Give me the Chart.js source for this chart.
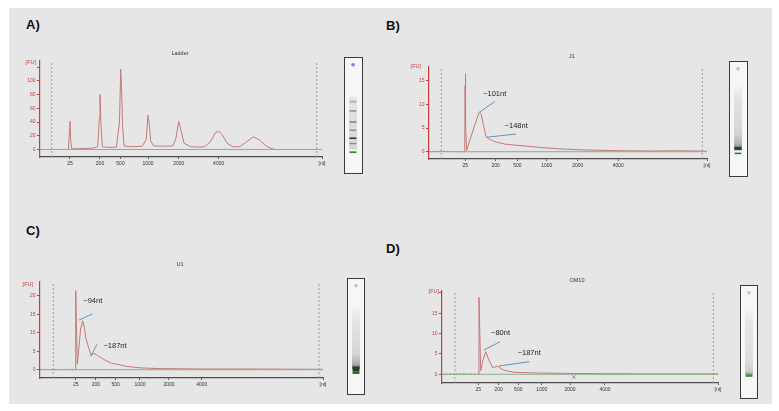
<!DOCTYPE html>
<html><head><meta charset="utf-8">
<script src="https://cdn.jsdelivr.net/npm/chart.js@4.4.0/dist/chart.umd.min.js"></script>
<style>
html,body{margin:0;padding:0;background:#fff;width:779px;height:411px;overflow:hidden;font-family:"Liberation Sans",Arial,sans-serif;}
#bg{position:absolute;left:9px;top:8px;width:763px;height:396px;background:#e6e6e6;}
.plabel{position:absolute;font-weight:bold;font-size:13px;color:#111;line-height:13px;}
canvas{position:absolute;}
.gel{position:absolute;border:1.3px solid #3a3a3a;background:#f6f6f6;box-sizing:border-box;overflow:hidden;}
.gel canvas{left:0;top:0;}
</style></head><body>
<div id="bg"></div>
<div class="plabel" style="left:26px;top:18px">A)</div>
<div class="plabel" style="left:386px;top:18.5px">B)</div>
<div class="plabel" style="left:26px;top:224px">C)</div>
<div class="plabel" style="left:386px;top:242px">D)</div>
<script>
// ---------- DATA ----------
const xTickLabels = ['25', '200', '500', '1000', '2000', '4000', '[nt]'];

// Panel A: Ladder (x = migration time, s)
const ladderTickT = [20.85, 26.7, 30.7, 36.07, 42.05, 49.85, 70];
const ladderTime = [20.55,20.75,20.85,21.0,21.2,22.3,23.8,25.3,26.25,26.55,26.7,26.9,27.15,28.4,29.9,30.5,30.74,30.9,31.1,31.4,32.9,34.9,35.7,36.07,36.3,36.6,37.2,38.9,40.9,41.5,42.05,42.5,43.1,44.4,45.9,47.1,48.2,49.2,49.85,50.5,51.5,52.6,53.9,55.1,56.6,57.8,59.1,60.3,60.9];
const ladderFU   = [0,30,41,12,1,1,1.5,2,4,45,80,35,4,3,3.5,40,117,90,35,5,4,4.5,14,50,38,12,5,5,5,16,41,28,9,4,3.5,4,11,24,27,22,9,4,4,10,18.5,14,5,1,0];
const ladderYTicks = [0, 20, 40, 60, 80, 100, 120];
const ladderYLabels = ['0', '20', '40', '60', '80', '100', ''];

// Panel B: J1
const j1TickT = [22.18, 28.2, 32.47, 38.29, 44.42, 52.45, 70];
const j1Time = [15,17.2,20.1,22.08,22.14,22.18,22.28,22.42,23.11,24.1,24.95,25.29,25.78,26.28,26.87,28.06,30.04,33.0,35.97,38.15,40.92,44.87,48.83,52.79,58.72,64.66,70];
const j1FU   = [0,0.1,0,0,14,16.5,6,0.2,2.5,5.8,8.4,8.1,5.5,3.2,2.7,2.1,1.6,1.3,1.0,0.8,0.6,0.4,0.3,0.2,0.15,0.2,0.1];
const j1YTicks = [0, 5, 10, 15];
const j1YLabels = ['0', '5', '10', '15'];
const j1AnnLabels = ['~101nt', '~148nt'];
const j1AnnFrom = [[24.95, 8.3], [26.28, 3.04]];
const j1AnnTo   = [[28.0, 10.6], [32.21, 3.74]];
const j1AnnText = [[28.0, 12.3], [32.25, 5.43]];

// Panel C: U1
const u1TickT = [21.94, 25.88, 29.71, 34.43, 40.07, 46.43, 70];
const u1Time = [15,18,21,21.82,21.94,22.25,22.9,23.3,23.6,23.94,24.91,25.49,26.02,27.63,28.93,29.9,31.85,34.43,38.32,46.1,55.8,70];
const u1FU   = [0.1,0,0.1,0,21.35,1.5,11,13.2,11.5,8.3,3.9,4.4,4.0,2.6,1.7,1.5,0.9,0.5,0.3,0.2,0.2,0.1];
const u1YTicks = [0, 5, 10, 15, 20];
const u1YLabels = ['0', '5', '10', '15', '20'];
const u1AnnLabels = ['~94nt', '~187nt'];
const u1AnnFrom = [[22.58, 13.4], [24.85, 3.57]];
const u1AnnTo   = [[25.2, 15.1], [26.08, 6.86]];
const u1AnnText = [[25.26, 18.7], [29.58, 6.5]];

// Panel D: OM10
const om10TickT = [22.23, 26.3, 30.2, 34.87, 40.51, 47.48, 70];
const om10Time = [15,18.59,22.25,22.37,22.71,23.17,23.71,24.17,25.1,26.02,27.22,29.21,34.53,40.51,46.49,56.45,70];
const om10FU   = [0,0.1,0,18.9,0.9,3.5,5.55,4.0,1.6,2.0,1.05,0.5,0.3,0.2,0.15,0.1,0.1];
const om10YTicks = [0, 5, 10, 15, 20];
const om10YLabels = ['0', '5', '10', '15', ''];
const om10AnnLabels = ['~80nt', '~187nt'];
const om10AnnFrom = [[23.37, 5.97], [26.36, 2.04]];
const om10AnnTo   = [[26.56, 8.0], [32.4, 3.1]];
const om10AnnText = [[26.66, 10.1], [32.38, 5.16]];
const om10Marker = [41.3, -0.66];

// Gel lanes (band positions in % of lane height from top)
const gelABands = [[36.1, 38.8], [45.3, 47.0], [56.0, 57.4], [63.7, 65.0], [71.2, 72.6], [76.3, 77.6], [84.3, 85.8]];
const gelAColors = ['#bcbcbc', '#9a9a9a', '#7e7e7e', '#8c8c8c', '#2e2e2e', '#8a8a8a', '#1d8a1d'];
const gelBBands = [[76.9, 79.9], [82.5, 84.0]];
const gelBColors = ['#3a3a3a', '#1a8a1a'];
const gelCBands = [[78.0, 82.8], [82.8, 85.0]];
const gelCColors = ['#2f3a2f', '#1c6e1c'];
const gelDBands = [[80.3, 81.8], [81.8, 83.4]];
const gelDColors = ['#8a8a8a', '#1a8a1a'];

// ---------- RENDERING ----------
Chart.defaults.font.family = '"Liberation Sans", Arial, sans-serif';
const RED = '#c83c3c';

function electro(geo, d) {
  const PADL = 30, PADR = 20, PADT = 20, PADB = 22;
  const W = geo.right - geo.left + PADL + PADR;
  const H = geo.bottom - geo.top + PADT + PADB;
  const cvL = geo.left - PADL, cvT = geo.top - PADT;
  const cv = document.createElement('canvas');
  cv.width = W; cv.height = H;
  cv.style.left = cvL + 'px'; cv.style.top = cvT + 'px';
  document.body.appendChild(cv);

  const ds = [];
  d.dashT.forEach(t => ds.push({data: [{x: t, y: d.yMin}, {x: t, y: d.yMax}], borderColor: '#9c9c9c', borderWidth: 1, borderDash: [2, 2], pointRadius: 0}));
  ds.push({data: [{x: d.xMin, y: 0}, {x: d.xMax, y: 0}], borderColor: '#86b286', borderWidth: 1, pointRadius: 0});
  const pre = d.preEnd;
  ds.push({
    data: d.time.map((t, i) => ({x: t, y: d.fu[i]})),
    borderColor: '#c47878', borderWidth: 1, pointRadius: 0, tension: 0,
    segment: {
      borderColor: c => c.p1.parsed.x <= pre ? '#7d746c' : undefined,
      borderDash: c => c.p1.parsed.x <= pre ? [2, 1.5] : undefined
    }
  });
  (d.annFrom || []).forEach((a, i) => ds.push({data: [{x: a[0], y: a[1]}, {x: d.annTo[i][0], y: d.annTo[i][1]}], borderColor: '#5f93b8', borderWidth: 1, pointRadius: 0}));
  if (d.marker) ds.push({data: [{x: d.marker[0], y: d.marker[1]}], showLine: false, pointStyle: 'crossRot', pointRadius: 2.5, borderColor: '#d070d0', borderWidth: 1});

  const textPlugin = {
    id: 'panelText',
    afterDraw(chart) {
      const c = chart.ctx;
      c.save();
      c.textBaseline = 'middle';
      c.font = '5.5px "Liberation Sans", Arial, sans-serif';
      c.fillStyle = '#333'; c.textAlign = 'center';
      c.fillText(d.title, geo.titleX - cvL, geo.titleY - cvT);
      c.fillStyle = RED; c.textAlign = 'right';
      c.fillText('[FU]', geo.fuX - cvL, geo.fuY - cvT);
      c.fillStyle = '#222'; c.textAlign = 'center';
      c.font = '7.5px "Liberation Sans", Arial, sans-serif';
      (d.annLabels || []).forEach((lab, i) => {
        c.fillText(lab, chart.scales.x.getPixelForValue(d.annText[i][0]), chart.scales.y.getPixelForValue(d.annText[i][1]));
      });
      c.restore();
    }
  };

  new Chart(cv, {
    type: 'line',
    data: {datasets: ds},
    options: {
      responsive: false, animation: false, devicePixelRatio: 1,
      layout: {padding: {left: 0, right: PADR, top: PADT, bottom: 0}},
      plugins: {legend: {display: false}, tooltip: {enabled: false}},
      scales: {
        x: {
          type: 'linear', min: d.xMin, max: d.xMax,
          afterBuildTicks: s => { s.ticks = d.xTickT.map(v => ({value: v})); },
          afterFit: s => { s.height = PADB; s.paddingLeft = 0; s.paddingRight = 0; },
          ticks: {callback: (v, i) => xTickLabels[i], font: {size: 5}, color: '#333', padding: 2, maxRotation: 0, autoSkip: false},
          grid: {display: true, drawOnChartArea: false, drawTicks: true, tickLength: 2, color: '#555'},
          border: {display: true, color: '#4d4d4d', width: 1.3}
        },
        y: {
          type: 'linear', min: d.yMin, max: d.yMax,
          afterBuildTicks: s => { s.ticks = d.yTicks.map(v => ({value: v})); },
          afterFit: s => { s.width = PADL; s.paddingTop = 0; s.paddingBottom = 0; },
          ticks: {callback: (v, i) => d.yLabels[i], font: {size: 5}, color: RED, padding: 1.5, autoSkip: false},
          grid: {display: true, drawOnChartArea: false, drawTicks: true, tickLength: 3, color: RED},
          border: {display: true, color: RED, width: 1.2}
        }
      }
    },
    plugins: [textPlugin]
  });
}

function gel(box, bands, colors, smear, stops, dotColor) {
  const wrap = document.createElement('div');
  wrap.className = 'gel';
  wrap.style.left = box.left + 'px'; wrap.style.top = box.top + 'px';
  wrap.style.width = box.w + 'px'; wrap.style.height = box.h + 'px';
  document.body.appendChild(wrap);
  const cv = document.createElement('canvas');
  cv.width = Math.round(box.w - 2.6); cv.height = Math.round(box.h - 2.6);
  wrap.appendChild(cv);
  const ds = [];
  ds.push({
    data: [smear], barPercentage: 1, categoryPercentage: 1, grouped: false, borderWidth: 0, order: 10,
    backgroundColor: ctx => {
      const ch = ctx.chart;
      if (!ch.chartArea) return 'transparent';
      const y0 = ch.scales.y.getPixelForValue(smear[0]);
      const y1 = ch.scales.y.getPixelForValue(smear[1]);
      const g = ch.ctx.createLinearGradient(0, y0, 0, y1);
      stops.forEach(s => g.addColorStop(s[0], s[1]));
      return g;
    }
  });
  bands.forEach((b, i) => ds.push({data: [b], backgroundColor: colors[i], barPercentage: 0.86, categoryPercentage: 1, grouped: false, borderWidth: 0, order: 2}));
  ds.push({type: 'line', data: [2.6], showLine: false, pointRadius: 1.8, pointBackgroundColor: dotColor, pointBorderWidth: 0, order: 0});
  new Chart(cv, {
    type: 'bar',
    data: {labels: ['lane'], datasets: ds},
    options: {
      responsive: false, animation: false, devicePixelRatio: 1,
      layout: {padding: 0},
      plugins: {legend: {display: false}, tooltip: {enabled: false}},
      scales: {x: {display: false}, y: {display: false, min: 0, max: 100, reverse: true}}
    }
  });
}

electro({left: 40, right: 322, top: 61, bottom: 157, titleX: 180, titleY: 53, fuX: 36, fuY: 62},
  {xMin: 15, xMax: 70, yMin: -11, yMax: 129, dashT: [17.28, 68.97], xTickT: ladderTickT,
   yTicks: ladderYTicks, yLabels: ladderYLabels, time: ladderTime, fu: ladderFU, preEnd: -1, title: 'Ladder'});

electro({left: 429, right: 707, top: 67, bottom: 159, titleX: 572, titleY: 56, fuX: 421, fuY: 66},
  {xMin: 15, xMax: 70, yMin: -1.54, yMax: 17.9, dashT: [17.43, 69.07], xTickT: j1TickT,
   yTicks: j1YTicks, yLabels: j1YLabels, time: j1Time, fu: j1FU, preEnd: 22.08, title: 'J1',
   annLabels: j1AnnLabels, annFrom: j1AnnFrom, annTo: j1AnnTo, annText: j1AnnText});

electro({left: 40, right: 323, top: 282, bottom: 378, titleX: 180, titleY: 264.5, fuX: 33, fuY: 284},
  {xMin: 15, xMax: 70, yMin: -2.24, yMax: 23.7, dashT: [17.58, 69.22], xTickT: u1TickT,
   yTicks: u1YTicks, yLabels: u1YLabels, time: u1Time, fu: u1FU, preEnd: 21.82, title: 'U1',
   annLabels: u1AnnLabels, annFrom: u1AnnFrom, annTo: u1AnnTo, annText: u1AnnText});

electro({left: 442, right: 718, top: 291, bottom: 383, titleX: 577, titleY: 280.3, fuX: 439, fuY: 291},
  {xMin: 15, xMax: 70, yMin: -2.14, yMax: 20.48, dashT: [17.59, 69.07], xTickT: om10TickT,
   yTicks: om10YTicks, yLabels: om10YLabels, time: om10Time, fu: om10FU, preEnd: 22.25, title: 'OM10',
   annLabels: om10AnnLabels, annFrom: om10AnnFrom, annTo: om10AnnTo, annText: om10AnnText, marker: om10Marker});

gel({left: 344, top: 57, w: 19, h: 117}, gelABands, gelAColors, [33, 82],
  [[0, '#e8e8e8'], [0.5, '#dddddd'], [1, '#d6d6d6']], '#7484e2');
gel({left: 729.3, top: 61.3, w: 18.4, h: 115.4}, gelBBands, gelBColors, [18, 80],
  [[0, '#f4f4f4'], [0.2, '#e4e4e4'], [0.75, '#d4d4d4'], [0.9, '#b4b4b4'], [1, '#7a7a7a']], '#c6bedf');
gel({left: 346.7, top: 277.7, w: 18.3, h: 117.3}, gelCBands, gelCColors, [22, 80],
  [[0, '#f4f4f4'], [0.25, '#e4e4e4'], [0.75, '#d6d6d6'], [0.92, '#b0b0b0'], [1, '#707070']], '#c6bedf');
gel({left: 739.5, top: 285, w: 18.5, h: 114.3}, gelDBands, gelDColors, [19, 81],
  [[0, '#f2f2f2'], [0.2, '#e6e6e6'], [0.8, '#dddddd'], [0.95, '#cccccc'], [1, '#b0b0b0']], '#c6bedf');
</script>
</body></html>
